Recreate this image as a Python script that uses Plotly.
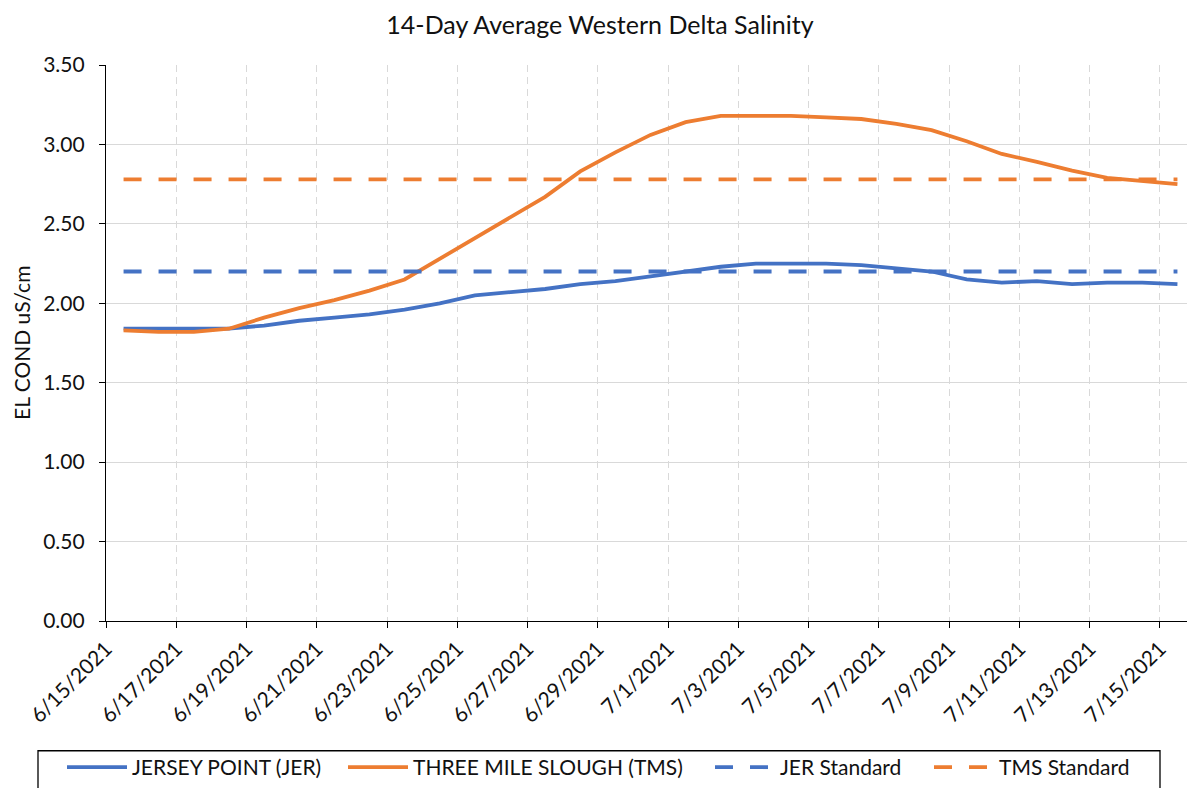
import pandas as pd
import plotly.graph_objects as go

# ---- data ----
dates = pd.date_range("2021-06-15", "2021-07-15", freq="D")
jer = [1.84, 1.84, 1.84, 1.84, 1.86, 1.89, 1.91, 1.93, 1.96, 2.00, 2.05,
       2.07, 2.09, 2.12, 2.14, 2.17, 2.20, 2.23, 2.25, 2.25, 2.25, 2.24,
       2.22, 2.20, 2.15, 2.13, 2.14, 2.12, 2.13, 2.13, 2.12]
tms = [1.83, 1.82, 1.82, 1.84, 1.91, 1.97, 2.02, 2.08, 2.15, 2.28, 2.41,
       2.54, 2.67, 2.83, 2.95, 3.06, 3.14, 3.18, 3.18, 3.18, 3.17, 3.16,
       3.13, 3.09, 3.02, 2.94, 2.89, 2.835, 2.79, 2.77, 2.75]
jer_std = [2.20, 2.20, 2.20, 2.20, 2.20, 2.20, 2.20, 2.20, 2.20, 2.20, 2.20,
           2.20, 2.20, 2.20, 2.20, 2.20, 2.20, 2.20, 2.20, 2.20, 2.20, 2.20,
           2.20, 2.20, 2.20, 2.20, 2.20, 2.20, 2.20, 2.20, 2.20]
tms_std = [2.78, 2.78, 2.78, 2.78, 2.78, 2.78, 2.78, 2.78, 2.78, 2.78, 2.78,
           2.78, 2.78, 2.78, 2.78, 2.78, 2.78, 2.78, 2.78, 2.78, 2.78, 2.78,
           2.78, 2.78, 2.78, 2.78, 2.78, 2.78, 2.78, 2.78, 2.78]
series_names = ["JERSEY POINT (JER)", "THREE MILE SLOUGH (TMS)",
                "JER Standard", "TMS Standard"]

BLUE = "#4472C4"
ORANGE = "#ED7D31"
FONT = "Lato"
TXT = "#111111"

# points sit in the middle of each day (Excel "between tick marks")
x = dates + pd.Timedelta(hours=12)

# page has an 8px body margin; work in page pixels and convert
OFF = 8
W, H = 1195 - OFF, 788 - OFF
L, R, T = 106 - OFF, 0, 65 - OFF
B = H - (622 - OFF)
pw, ph = W - L - R, H - T - B


def px_x(p):
    return (p - OFF - L) / pw


def px_y(p):
    return (H - B - (p - OFF)) / ph


legend_keys = ["legend", "legend2", "legend3", "legend4"]
legend_x = [62, 343, 710, 929]   # page x where each legend entry starts

fig = go.Figure()
specs = [(jer, BLUE, "solid"), (tms, ORANGE, "solid"),
         (jer_std, BLUE, "18px,17px"), (tms_std, ORANGE, "18px,17px")]
for name, (vals, col, dash), lk in zip(series_names, specs, legend_keys):
    fig.add_trace(go.Scatter(x=x, y=vals, mode="lines", name=name,
                             legend=lk,
                             line=dict(color=col, width=3.8, dash=dash)))

legend_layout = {}
for lk, lx in zip(legend_keys, legend_x):
    legend_layout[lk] = dict(orientation="h", x=px_x(lx), y=px_y(748),
                             xanchor="left", yanchor="top",
                             bgcolor="rgba(0,0,0,0)", borderwidth=0,
                             font=dict(family=FONT, size=21, color=TXT),
                             itemwidth=60)

fig.update_layout(
    width=W, height=H, autosize=False,
    margin=dict(l=L, r=R, t=T, b=B),
    paper_bgcolor="white", plot_bgcolor="white",
    font=dict(family=FONT, size=21, color=TXT),
    title=dict(text="14-Day Average Western Delta Salinity",
               x=(600 - OFF) / W, xref="container", xanchor="center",
               y=1 - (25 - OFF) / H, yref="container", yanchor="middle",
               font=dict(family=FONT, size=25, color=TXT)),
    showlegend=True,
    **legend_layout,
)

fig.update_xaxes(
    type="date", range=["2021-06-15", "2021-07-16"],
    tick0="2021-06-15", dtick=2 * 86400000, tickformat="%-m/%-d/%Y",
    tickangle=-45, tickfont=dict(family=FONT, size=21, color=TXT),
    showgrid=True, gridcolor="#d9d9d9", gridwidth=1, griddash="7px,5px",
    showline=True, linecolor="black", linewidth=1.3,
    ticks="outside", ticklen=6, tickcolor="black", tickwidth=1.3,
    zeroline=False,
)
fig.update_yaxes(
    range=[0, 3.5], dtick=0.5, tick0=0, tickformat=".2f",
    tickfont=dict(family=FONT, size=21, color=TXT),
    ticklabelstandoff=10,
    showgrid=True, gridcolor="#d9d9d9", gridwidth=1,
    showline=True, linecolor="black", linewidth=1.3,
    ticks="outside", ticklen=6, tickcolor="black", tickwidth=1.3,
    zeroline=False,
)

fig.add_annotation(text="EL COND uS/cm", xref="paper", yref="paper",
                   x=px_x(21), y=0.5, xanchor="center", yanchor="middle",
                   textangle=-90, showarrow=False,
                   font=dict(family=FONT, size=21, color=TXT))

# legend frame (extends below the visible page like the reference)
fig.add_shape(type="rect", xref="paper", yref="paper",
              x0=px_x(38), x1=px_x(1160), y0=px_y(752), y1=px_y(830),
              line=dict(color="black", width=1.3), fillcolor="rgba(0,0,0,0)",
              layer="above")

fig.write_html("out.html")
